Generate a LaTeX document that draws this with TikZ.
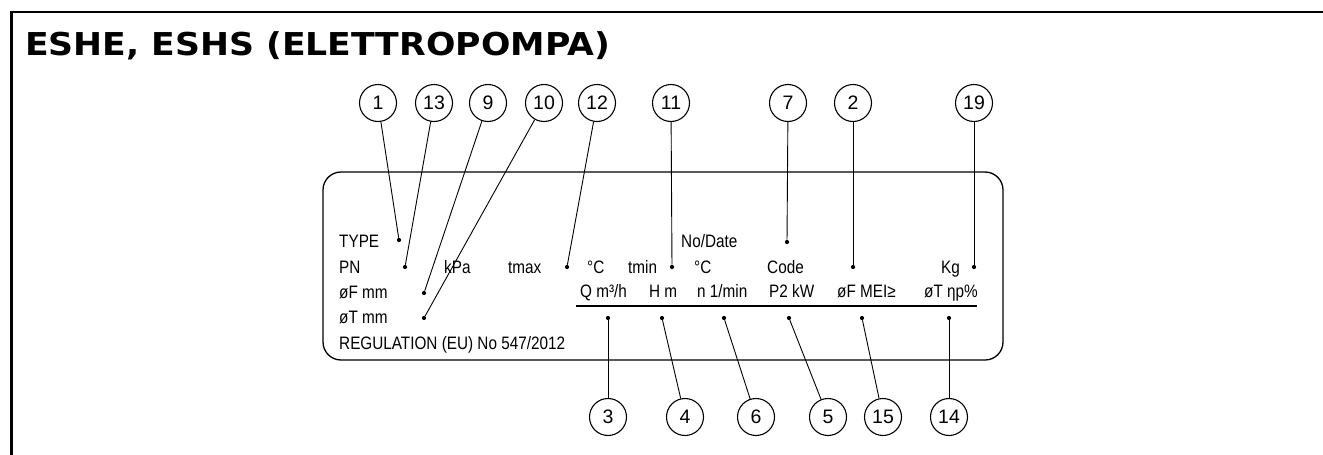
\documentclass[tikz,border=0pt]{standalone}
\usepackage{fontspec}
\usepackage{graphicx}
\setmainfont{Liberation Sans}
\newfontfamily\labfont[FakeStretch=0.85]{Liberation Sans}
\newfontfamily\numfont{Liberation Sans}
\newfontfamily\titlefont{DejaVu Sans}
\begin{document}
\begin{tikzpicture}[x=1pt,y=-1pt,
  lab/.style={anchor=base west,inner sep=0pt,font=\labfont\fontsize{18}{20}\selectfont},
  callout/.style={circle,draw,line width=1.1pt,minimum size=37pt,inner sep=0pt,font=\numfont\fontsize{19.5}{20}\selectfont},
  pt/.style={circle,fill,inner sep=0pt,minimum size=4.2pt},
  lead/.style={line width=0.9pt},
  frameline/.style={line width=2.6pt},
  panel/.style={draw,line width=1.3pt,rounded corners=18pt}]
\useasboundingbox (0,0) rectangle (1323,455);
% frame
\draw[frameline] (11.7,455) -- (11.7,12) -- (1323,12);
% title
\node[anchor=base west,inner sep=0pt] (title) at (25,55)
  {\scalebox{1.10}[1]{\titlefont\bfseries\fontsize{31.5}{34}\selectfont ESHE, ESHS (ELETTROPOMPA)}};
% panel
\draw[panel] (323,172) rectangle (1003,360);
% underline
\coordinate (ulA) at (576,306);
\coordinate (ulB) at (977,306);
\draw[line width=1.1pt] (ulA) -- (ulB);
% texts
\node[lab] (tType) at (339,247) {TYPE};
\node[lab] (tPN) at (339,273) {PN};
\node[lab] (tOF) at (339,298) {øF mm};
\node[lab] (tOT) at (339,323) {øT mm};
\node[lab] (tReg) at (339,349) {REGULATION (EU) No 547/2012};
\node[lab] (tkPa) at (444,273) {kPa};
\node[lab] (tTmax) at (508,273) {tmax};
\node[lab] (tC1) at (587,273) {°C};
\node[lab] (tTmin) at (628,273) {tmin};
\node[lab] (tC2) at (694,273) {°C};
\node[lab] (tCode) at (767,273) {Code};
\node[lab] (tKg) at (941,273) {Kg};
\node[lab] (tNo) at (681,247) {No/Date};
\node[lab] (tQ) at (580,297) {Q m³/h};
\node[lab] (tH) at (649,297) {H m};
\node[lab] (tN) at (697,297) {n 1/min};
\node[lab] (tP) at (769,297) {P2 kW};
\node[lab] (tMEI) at (837,297) {øF MEI≥};
\node[lab] (tEta) at (924,297) {øT ηp\%};
% dots
\node[pt] (d1) at (399,240) {};
\node[pt] (d13) at (405,267) {};
\node[pt] (d9) at (424,293) {};
\node[pt] (d10) at (424,318) {};
\node[pt] (d12) at (567,267) {};
\node[pt] (d11) at (672,267) {};
\node[pt] (d7) at (787,242) {};
\node[pt] (d2) at (853,267) {};
\node[pt] (d19) at (974,267) {};
\node[pt] (d3) at (608,318) {};
\node[pt] (d4) at (662,318) {};
\node[pt] (d6) at (724,318) {};
\node[pt] (d5) at (789,318) {};
\node[pt] (d15) at (862,318) {};
\node[pt] (d14) at (949,318) {};
% callouts top
\node[callout] (c1) at (378,103) {1};
\node[callout] (c13) at (434,103) {13};
\node[callout] (c9) at (488,103) {9};
\node[callout] (c10) at (544,103) {10};
\node[callout] (c12) at (597,103) {12};
\node[callout] (c11) at (671,103) {11};
\node[callout] (c7) at (788,103) {7};
\node[callout] (c2) at (853,103) {2};
\node[callout] (c19) at (974,103) {19};
% callouts bottom
\node[callout] (c3) at (608,417) {3};
\node[callout] (c4) at (685,417) {4};
\node[callout] (c6) at (756,417) {6};
\node[callout] (c5) at (828,417) {5};
\node[callout] (c15) at (883,417) {15};
\node[callout] (c14) at (949,417) {14};
% leaders
\foreach \n in {1,13,9,10,12,11,7,2,19,3,4,6,5,15,14}
  \draw[lead] (c\n) -- (d\n);
\end{tikzpicture}
\end{document}
